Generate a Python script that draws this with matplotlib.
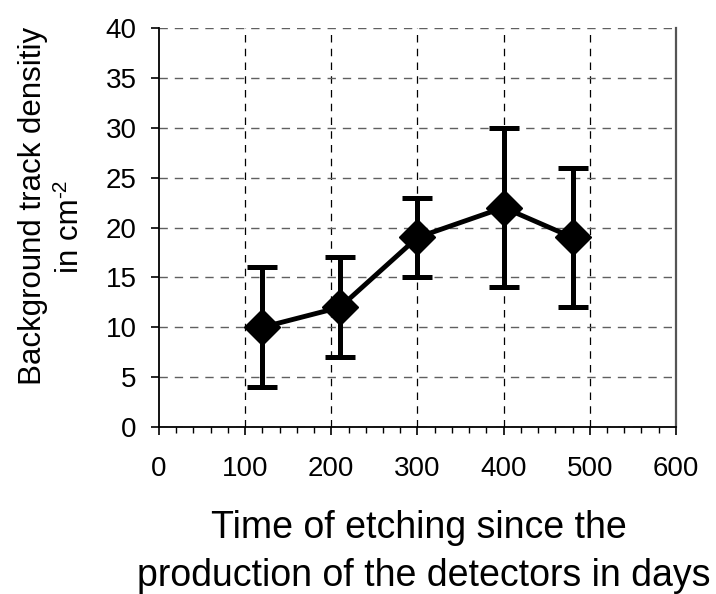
"""Background track density vs. time of etching (reconstruction)."""

import matplotlib
matplotlib.use("Agg")
import matplotlib.pyplot as plt
from matplotlib.ticker import MultipleLocator

plt.rcParams["font.family"] = ["Liberation Sans", "DejaVu Sans"]

# data
days = [120, 210, 300, 400, 480]
density = [10, 12, 19, 22, 19]
err_low = [4, 7, 15, 14, 12]
err_high = [16, 17, 23, 30, 26]

x_ticks = [0, 100, 200, 300, 400, 500, 600]
y_ticks = [0, 5, 10, 15, 20, 25, 30, 35, 40]


def main():
    fig = plt.figure(figsize=(7.16, 5.94), dpi=100)
    ax = fig.add_axes([0.222, 0.281, 0.722, 0.672])

    yerr = [
        [d - lo for d, lo in zip(density, err_low)],
        [hi - d for d, hi in zip(density, err_high)],
    ]
    ax.errorbar(
        days,
        density,
        yerr=yerr,
        color="black",
        marker="D",
        markersize=18.5,
        linewidth=3.5,
        elinewidth=3.6,
        capsize=11,
        capthick=3.6,
        zorder=3,
    )

    ax.set_xlim(0, 600)
    ax.set_ylim(0, 40)
    ax.set_xticks(x_ticks)
    ax.set_yticks(y_ticks)
    ax.xaxis.set_minor_locator(MultipleLocator(20))

    ax.tick_params(axis="both", which="major", direction="out", length=6,
                   width=1.2, labelsize=20, color="black")
    ax.tick_params(axis="x", which="major", pad=15)
    ax.tick_params(axis="y", which="major", pad=10)
    ax.tick_params(axis="x", which="minor", direction="out", length=4, width=1.0)

    ax.set_axisbelow(True)
    ax.yaxis.grid(True, linestyle=(0, (6, 5)), color="#606060", linewidth=1.0)
    for x in x_ticks[1:-1]:
        ax.axvline(x, linestyle=(0, (6, 5)), color="black", linewidth=0.9, zorder=0)

    ax.spines["top"].set_visible(False)
    ax.spines["left"].set_linewidth(1.3)
    ax.spines["bottom"].set_linewidth(1.3)
    ax.spines["right"].set_color("#555555")
    ax.spines["right"].set_linewidth(1.6)

    # x label, two centred lines
    fig.text(419 / 716, 1 - 538 / 594, "Time of etching since the",
             ha="center", va="baseline", fontsize=27)
    fig.text(424 / 716, 1 - 586 / 594, "production of the detectors in days",
             ha="center", va="baseline", fontsize=27)

    # y label, rotated; hyphen superscript as its own text
    fig.text(41 / 716, 1 - 206 / 594, "Background track densitiy",
             ha="center", va="baseline", rotation=90, rotation_mode="anchor",
             fontsize=22.5)
    fig.text(78 / 716, 1 - 236 / 594, "in cm",
             ha="center", va="baseline", rotation=90, rotation_mode="anchor",
             fontsize=22.5)
    fig.text(66 / 716, 1 - 198 / 594, "-2",
             ha="left", va="baseline", rotation=90, rotation_mode="anchor",
             fontsize=15)

    fig.savefig("out.png", dpi=100, facecolor="white")
    plt.close(fig)


if __name__ == "__main__":
    main()
